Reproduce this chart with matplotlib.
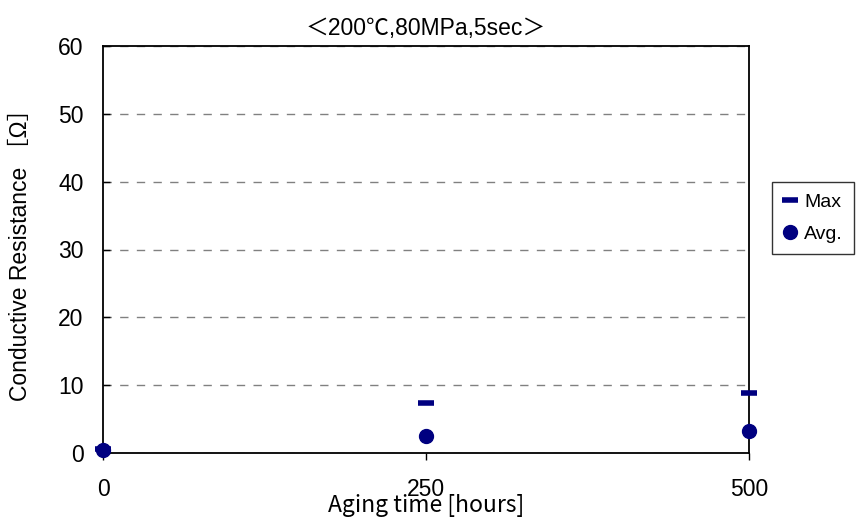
import matplotlib
matplotlib.use("Agg")
import matplotlib.pyplot as plt

plt.rcParams['font.family'] = ['Liberation Sans', 'Noto Sans CJK JP', 'DejaVu Sans']

hours = [0, 250, 500]
max_vals = [0.6, 7.4, 8.8]
avg_vals = [0.5, 2.5, 3.3]
x_ticks = [0, 250, 500]
y_ticks = [0, 10, 20, 30, 40, 50, 60]

title = "＜200℃,80MPa,5sec＞"
ylabel = "Conductive Resistance ［Ω］"
xlabel = "Aging time [hours]"

navy = "#000080"

fig = plt.figure(figsize=(8.59, 5.2), dpi=100)
ax = fig.add_axes([103/859, 1 - 453/520, (749-103)/859, (453-46)/520])

ax.plot(hours, max_vals, linestyle='none', marker='_', markersize=12,
        markeredgewidth=4, color=navy, label='Max', clip_on=False, zorder=3)
ax.plot(hours, avg_vals, linestyle='none', marker='o', markersize=10,
        color=navy, label='Avg.', clip_on=False, zorder=4)

ax.set_xlim(0, 500)
ax.set_ylim(0, 60)
ax.set_xticks(x_ticks)
ax.set_yticks(y_ticks)
ax.yaxis.grid(True, linestyle=(0, (6, 6)), color='#808080', linewidth=1)
ax.set_axisbelow(True)

ax.tick_params(axis='y', direction='in', length=5, width=1, labelsize=16.5, pad=14)
ax.tick_params(axis='x', direction='out', length=5, width=1, labelsize=16.5, pad=13)
for s in ax.spines.values():
    s.set_linewidth(1.3)
    s.set_color('black')

ax.set_title(title, fontsize=16.5, pad=8,
             family=['Liberation Sans', 'Noto Sans CJK JP'])
ax.set_ylabel(ylabel, fontsize=16.5, family=['Liberation Sans', 'Noto Sans CJK JP'])
ax.yaxis.set_label_coords(-0.11, 0.5)
ax.set_xlabel(xlabel, fontsize=16.5, family=['Noto Sans CJK JP'])
ax.xaxis.set_label_coords(0.5, -0.13)
ax.xaxis.label.set_va('center')

leg = ax.legend(loc='center left', bbox_to_anchor=(772/859, 1 - 218/520),
                bbox_transform=fig.transFigure, frameon=True, fancybox=False,
                edgecolor='black', fontsize=14, handlelength=0.7,
                handletextpad=0.4, borderpad=0.55, labelspacing=0.75,
                borderaxespad=0)
leg.get_frame().set_linewidth(1)

fig.savefig("out.png", dpi=100)
